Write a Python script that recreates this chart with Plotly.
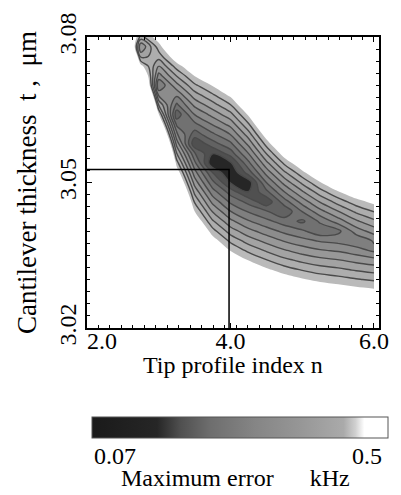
import plotly.graph_objects as go

# Grid axes: tip profile index n and cantilever thickness t (um)
tip_index = [2.0, 2.25, 2.5, 2.75, 3.0, 3.25, 3.5, 3.75, 4.0,
             4.25, 4.5, 4.75, 5.0, 5.25, 5.5, 5.75, 6.0]
thickness = [3.020, 3.022, 3.024, 3.026, 3.028, 3.030, 3.032, 3.034,
             3.036, 3.038, 3.040, 3.042, 3.044, 3.046, 3.048, 3.050,
             3.052, 3.054, 3.056, 3.058, 3.060, 3.062, 3.064, 3.066,
             3.068, 3.070, 3.072, 3.074, 3.076, 3.078, 3.080]

# Maximum frequency error (kHz): one list per n value, running up in t
err_n200 = [2.0, 2.0, 2.0, 2.0, 2.0, 2.0, 2.0, 2.0, 2.0, 2.0,
            2.0, 2.0, 2.0, 2.0, 2.0, 2.0, 2.0, 2.0, 2.0, 2.0,
            2.0, 2.0, 2.0, 1.93, 1.85, 1.75, 1.65, 1.55, 1.45, 1.33, 1.2]
err_n225 = [2.0, 2.0, 2.0, 2.0, 2.0, 2.0, 2.0, 2.0, 2.0, 2.0,
            2.0, 2.0, 2.0, 2.0, 2.0, 2.0, 2.0, 2.0, 2.0, 2.0,
            2.0, 1.9, 1.8, 1.7, 1.6, 1.5, 1.4, 1.3, 1.2, 1.08, 0.95]
err_n250 = [2.0, 2.0, 2.0, 2.0, 2.0, 2.0, 2.0, 2.0, 2.0, 2.0,
            2.0, 2.0, 2.0, 2.0, 2.0, 2.0, 2.0, 1.93, 1.85, 1.78,
            1.7, 1.62, 1.55, 1.45, 1.35, 1.25, 1.15, 1.05, 0.95, 0.83, 0.70]
err_n275 = [2.0, 2.0, 2.0, 2.0, 2.0, 2.0, 2.0, 2.0, 2.0, 2.0,
            2.0, 2.0, 2.0, 2.0, 2.0, 1.91, 1.80, 1.68, 1.56, 1.45,
            1.33, 1.21, 1.10, 0.98, 0.87, 0.75, 0.63, 0.518, 0.40, 0.33, 0.44]
err_n300 = [2.0, 2.0, 2.0, 2.0, 2.0, 2.0, 1.93, 1.84, 1.75, 1.66,
            1.57, 1.48, 1.40, 1.31, 1.22, 1.13, 1.04, 0.948, 0.858, 0.769,
            0.679, 0.589, 0.505, 0.41, 0.321, 0.246, 0.309, 0.371, 0.434, 0.48, 0.53]
err_n325 = [1.53, 1.46, 1.40, 1.34, 1.28, 1.22, 1.16, 1.09, 1.03, 0.971,
            0.909, 0.848, 0.786, 0.724, 0.663, 0.601, 0.54, 0.478, 0.416, 0.355,
            0.293, 0.232, 0.17, 0.232, 0.293, 0.355, 0.416, 0.478, 0.54, 0.601, 0.663]
err_n350 = [1.10, 1.05, 0.998, 0.949, 0.899, 0.85, 0.80, 0.75, 0.70, 0.651,
            0.601, 0.552, 0.502, 0.452, 0.403, 0.353, 0.304, 0.254, 0.204, 0.12,
            0.178, 0.231, 0.285, 0.339, 0.393, 0.447, 0.502, 0.554, 0.608, 0.662, 0.716]
err_n375 = [1.0, 0.948, 0.895, 0.842, 0.79, 0.737, 0.684, 0.632, 0.579, 0.527,
            0.474, 0.421, 0.369, 0.316, 0.264, 0.211, 0.158, 0.075, 0.115, 0.181,
            0.235, 0.288, 0.342, 0.396, 0.449, 0.503, 0.556, 0.61, 0.664, 0.717, 0.771]
err_n400 = [0.923, 0.87, 0.817, 0.764, 0.711, 0.658, 0.605, 0.552, 0.497, 0.446,
            0.393, 0.34, 0.287, 0.234, 0.181, 0.11, 0.07, 0.105, 0.176, 0.232,
            0.288, 0.343, 0.399, 0.455, 0.511, 0.567, 0.622, 0.678, 0.734, 0.79, 0.846]
err_n425 = [0.862, 0.81, 0.758, 0.706, 0.654, 0.602, 0.55, 0.498, 0.446, 0.394,
            0.342, 0.29, 0.238, 0.186, 0.115, 0.085, 0.175, 0.23, 0.285, 0.34,
            0.395, 0.451, 0.506, 0.561, 0.616, 0.671, 0.727, 0.782, 0.837, 0.892, 0.947]
err_n450 = [0.816, 0.765, 0.714, 0.663, 0.612, 0.561, 0.51, 0.459, 0.408, 0.357,
            0.306, 0.255, 0.204, 0.125, 0.184, 0.242, 0.30, 0.358, 0.416, 0.474,
            0.532, 0.59, 0.648, 0.706, 0.764, 0.822, 0.88, 0.938, 0.996, 1.05, 1.11]
err_n475 = [0.785, 0.733, 0.682, 0.631, 0.58, 0.529, 0.477, 0.426, 0.375, 0.324,
            0.273, 0.221, 0.165, 0.22, 0.282, 0.343, 0.404, 0.466, 0.527, 0.589,
            0.65, 0.711, 0.773, 0.834, 0.896, 0.957, 1.02, 1.08, 1.14, 1.20, 1.26]
err_n500 = [0.761, 0.71, 0.658, 0.607, 0.556, 0.505, 0.454, 0.402, 0.351, 0.30,
            0.249, 0.19, 0.242, 0.302, 0.363, 0.424, 0.485, 0.546, 0.606, 0.667,
            0.728, 0.789, 0.85, 0.91, 0.971, 1.03, 1.09, 1.15, 1.21, 1.28, 1.34]
err_n525 = [0.746, 0.694, 0.643, 0.591, 0.539, 0.487, 0.435, 0.384, 0.332, 0.28,
            0.21, 0.25, 0.312, 0.374, 0.436, 0.497, 0.559, 0.621, 0.683, 0.745,
            0.807, 0.868, 0.93, 0.992, 1.05, 1.12, 1.18, 1.24, 1.30, 1.36, 1.42]
err_n550 = [0.73, 0.679, 0.628, 0.577, 0.526, 0.475, 0.424, 0.373, 0.322, 0.271,
            0.23, 0.305, 0.368, 0.431, 0.494, 0.557, 0.619, 0.682, 0.745, 0.808,
            0.871, 0.934, 0.996, 1.06, 1.12, 1.19, 1.25, 1.31, 1.37, 1.44, 1.50]
err_n575 = [0.721, 0.669, 0.617, 0.565, 0.513, 0.461, 0.409, 0.357, 0.305, 0.25,
            0.305, 0.363, 0.422, 0.48, 0.538, 0.596, 0.654, 0.713, 0.771, 0.829,
            0.887, 0.945, 1.0, 1.06, 1.12, 1.18, 1.24, 1.29, 1.35, 1.41, 1.47]
err_n600 = [0.714, 0.661, 0.608, 0.556, 0.503, 0.45, 0.397, 0.344, 0.275, 0.29,
            0.348, 0.403, 0.458, 0.513, 0.569, 0.624, 0.679, 0.734, 0.789, 0.845,
            0.90, 0.955, 1.01, 1.07, 1.12, 1.18, 1.23, 1.29, 1.34, 1.40, 1.45]

max_error = [err_n200, err_n225, err_n250, err_n275, err_n300, err_n325,
             err_n350, err_n375, err_n400, err_n425, err_n450, err_n475,
             err_n500, err_n525, err_n550, err_n575, err_n600]

# Chosen operating point (guide lines)
n_best = 3.98
t_best = 3.0527

# Contour levels and colour-bar limits (kHz)
level_start = 0.113
level_step = 0.043
level_top = 0.5
err_min = 0.07
err_max = 0.5

x_ticks = [2.0, 4.0, 6.0]
# first label is padded so it clears the corner
x_tick_text = ["\u00a0\u00a0\u00a0\u00a0\u00a02.0", "4.0", "6.0"]
y_ticks = [3.02, 3.05, 3.08]

SERIF = "Liberation Serif"

# One grey per band, core to outer band; white above the top level
band_scale = [
    [0.0, "#262626"], [0.1, "#505050"], [0.2, "#626262"], [0.3, "#717171"],
    [0.4, "#7f7f7f"], [0.5, "#8c8c8c"], [0.6, "#989898"], [0.7, "#a3a3a3"],
    [0.8, "#adadad"], [0.9, "#bababa"], [0.95, "#ffffff"], [1.0, "#ffffff"],
]
bar_scale = [
    [0.0, "#1a1a1a"], [0.22, "#262626"], [0.30, "#505050"], [0.40, "#6e6e6e"],
    [0.55, "#858585"], [0.70, "#969696"], [0.85, "#aaaaaa"], [0.89, "#d0d0d0"],
    [0.92, "#ffffff"], [1.0, "#ffffff"],
]

fig = go.Figure()

# filled bands
fig.add_trace(go.Contour(
    x=tip_index, y=thickness, z=max_error, transpose=True,
    contours=dict(start=level_start, end=level_top, size=level_step,
                  coloring="fill", showlines=False),
    colorscale=band_scale, showscale=False,
    line=dict(width=0, smoothing=1.0), hoverinfo="skip",
))
# contour lines (inner levels only)
fig.add_trace(go.Contour(
    x=tip_index, y=thickness, z=max_error, transpose=True,
    contours=dict(start=level_start, end=level_top - level_step, size=level_step,
                  coloring="none"),
    line=dict(color="#4a4a4a", width=1.4, smoothing=1.0),
    showscale=False, hoverinfo="skip",
))
# guide lines to the optimum
fig.add_trace(go.Scatter(
    x=[tip_index[0], n_best, n_best], y=[t_best, t_best, thickness[0]],
    mode="lines", line=dict(color="black", width=1.5),
    hoverinfo="skip", showlegend=False,
))
# colour bar carrier
fig.add_trace(go.Scatter(
    x=[None], y=[None], mode="markers", showlegend=False, hoverinfo="skip",
    marker=dict(
        color=[err_min], cmin=err_min, cmax=err_max, colorscale=bar_scale,
        showscale=True,
        colorbar=dict(
            orientation="h", x=0.0169, xanchor="left", y=-0.306, yanchor="top",
            len=296, lenmode="pixels", thickness=21, thicknessmode="pixels",
            xpad=0, ypad=0, outlinewidth=1, outlinecolor="#555555",
            showticklabels=False, ticks="",
        ),
    ),
))

fig.update_xaxes(
    range=[2.0, 6.07], tickvals=x_ticks, ticktext=x_tick_text,
    ticks="inside", ticklen=5, tickwidth=1, tickcolor="black",
    ticklabelstandoff=-10,
    minor=dict(tick0=2.0, dtick=0.16, ticks="inside", ticklen=3, tickcolor="black"),
    showline=True, linecolor="black", linewidth=1.5, mirror="allticks",
    showgrid=False, zeroline=False,
    tickfont=dict(family=SERIF, size=24, color="black"),
)
fig.update_yaxes(
    range=[3.02, 3.08], tickvals=y_ticks, tickformat=".2f", tickangle=-90,
    ticks="inside", ticklen=5, tickwidth=1, tickcolor="black",
    minor=dict(tick0=3.02, dtick=0.0025, ticks="inside", ticklen=3, tickcolor="black"),
    showline=True, linecolor="black", linewidth=1.5, mirror="allticks",
    showgrid=False, zeroline=False,
    tickfont=dict(family=SERIF, size=24, color="black"),
    title=dict(text="Cantilever thickness\u00a0\u00a0t\u00a0,\u00a0\u00a0\u03bcm",
               font=dict(family=SERIF, size=27, color="black"), standoff=10),
)

text_font = dict(family=SERIF, size=24, color="black")
fig.add_annotation(x=0.5, y=-0.128, xref="paper", yref="paper",
                   text="Tip profile index n", showarrow=False,
                   xanchor="center", yanchor="middle", font=text_font)
fig.add_annotation(x=0.0169, y=-0.441, xref="paper", yref="paper", text="0.07",
                   showarrow=False, xanchor="left", yanchor="middle", font=text_font)
fig.add_annotation(x=1.0169, y=-0.441, xref="paper", yref="paper", text="0.5",
                   showarrow=False, xanchor="right", yanchor="middle", font=text_font)
fig.add_annotation(x=0.51, y=-0.517, xref="paper", yref="paper",
                   text="Maximum error\u00a0\u00a0\u00a0\u00a0\u00a0\u00a0kHz",
                   showarrow=False, xanchor="center", yanchor="middle", font=text_font)

fig.update_layout(
    width=401, height=495,
    margin=dict(l=87, r=18, t=31, b=167),
    paper_bgcolor="white", plot_bgcolor="white",
    showlegend=False,
)

fig.write_html("out.html")
